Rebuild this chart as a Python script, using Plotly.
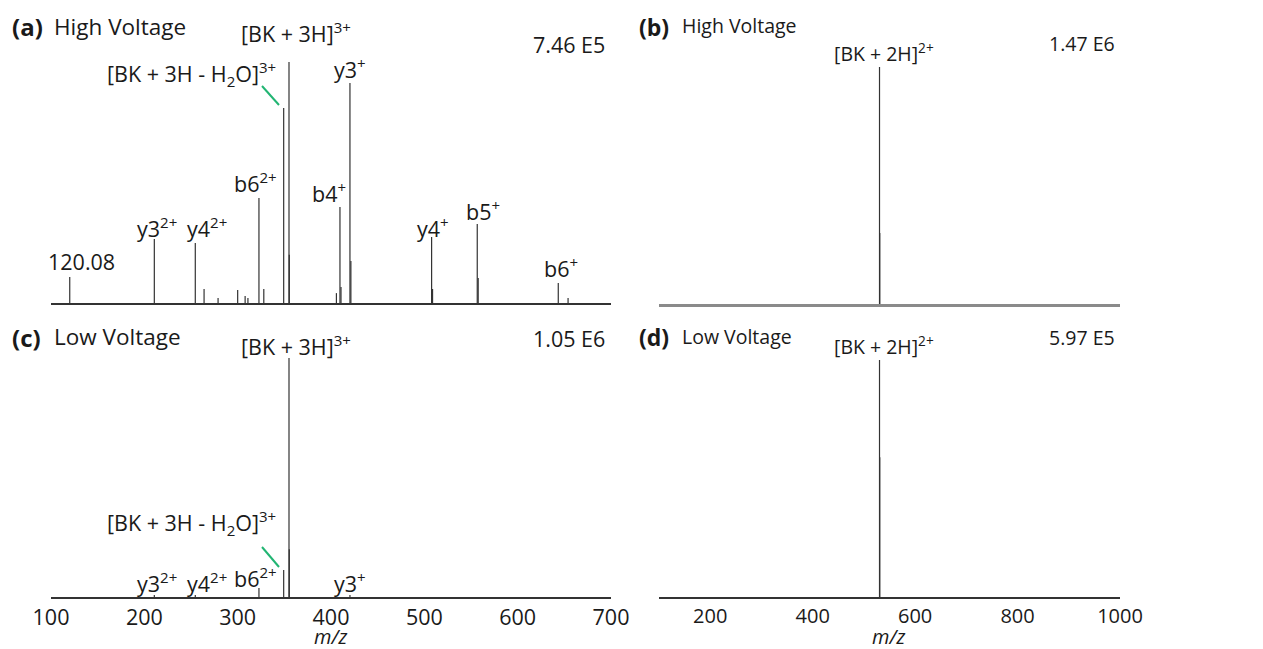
import plotly.graph_objects as go

W, H = 1263, 649

# ---------------- data (m/z, relative intensity %) ----------------
a_mz = [120.08, 210.7, 254.6, 264.0, 279.0, 300.0, 308.0, 311.0, 322.8, 328.0,
        349.3, 355.0, 355.3, 405.8, 409.6, 410.7, 420.3, 421.3, 507.8, 508.8,
        556.7, 557.7, 643.5, 654.0]
a_int = [10.8, 26.6, 24.9, 5.8, 2.1, 5.4, 2.9, 2.1, 43.6, 5.8,
         80.9, 100.0, 20.0, 4.1, 39.8, 6.6, 91.3, 17.4, 27.4, 5.8,
         32.8, 10.4, 8.3, 2.1]

c_mz = [210.7, 254.6, 322.8, 349.3, 355.0, 355.3, 420.3]
c_int = [0.8, 0.8, 3.8, 11.3, 100.0, 20.0, 0.8]

b_mz = [530.5, 531.0]
b_int = [100.0, 30.0]

d_mz = [530.5, 531.0]
d_int = [100.0, 59.0]

left_ticks = [100, 200, 300, 400, 500, 600, 700]
right_ticks = [200, 400, 600, 800, 1000]

max_labels = {"a": "7.46 E5", "b": "1.47 E6", "c": "1.05 E6", "d": "5.97 E5"}


def px(x):
    return x / W


def py(y):
    return 1 - y / H


def sticks(mz, inten):
    xs, ys = [], []
    for m, v in zip(mz, inten):
        xs += [m, m, None]
        ys += [0, v, None]
    return xs, ys


fig = go.Figure()

# panel geometry in pixels: (x0, x1, ytop, ybase, px per %)
panels = {
    "a": dict(ax="", x=(51, 611), yt=5, yb=303, s=2.41, xr=[100, 700], data=(a_mz, a_int)),
    "b": dict(ax="2", x=(659, 1120), yt=5, yb=304, s=2.37, xr=[100, 1000], data=(b_mz, b_int)),
    "c": dict(ax="3", x=(51, 611), yt=320, yb=597, s=2.39, xr=[100, 700], data=(c_mz, c_int)),
    "d": dict(ax="4", x=(659, 1120), yt=320, yb=597, s=2.37, xr=[100, 1000], data=(d_mz, d_int)),
}

FONT = "Open Sans, Noto Sans, sans-serif"
LSIZE = 21.5
RSIZE = 19.5

layout = dict(
    width=W, height=H,
    margin=dict(l=0, r=0, t=0, b=0, pad=0, autoexpand=False),
    paper_bgcolor="white", plot_bgcolor="white", showlegend=False,
)

for key, p in panels.items():
    xs, ys = sticks(*p["data"])
    fig.add_trace(go.Scatter(
        x=xs, y=ys, mode="lines",
        line=dict(color="#333333", width=1.2),
        xaxis="x" + p["ax"], yaxis="y" + p["ax"], hoverinfo="skip",
    ))
    bottom = key in ("c", "d")
    right = key in ("b", "d")
    ticks = right_ticks if right else left_ticks
    layout["xaxis" + p["ax"]] = dict(
        domain=[px(p["x"][0]), px(p["x"][1])],
        range=p["xr"], anchor="y" + p["ax"],
        automargin=False,
        showgrid=False, zeroline=False,
        showline=True,
        linecolor=("#8a8a8a" if key == "b" else "#333333"),
        linewidth=(3 if key == "b" else 2),
        tickmode="array", tickvals=ticks,
        ticktext=[str(t) for t in ticks],
        showticklabels=bottom, ticks="",
        tickfont=dict(family=FONT, size=(20 if right else 21.5), color="#1a1a1a"),
        fixedrange=True,
    )
    ytop = (p["yb"] - p["yt"]) / p["s"]
    layout["yaxis" + p["ax"]] = dict(
        domain=[py(p["yb"]), py(p["yt"])],
        range=[0, ytop], anchor="x" + p["ax"],
        automargin=False,
        visible=False, fixedrange=True,
    )

fig.update_layout(**layout)

ann = []


def T(text, x, y, size=LSIZE, xanchor="center", bold=False, italic=False):
    ann.append(dict(
        text=(f"<b>{text}</b>" if bold else text), x=px(x), y=py(y),
        xref="paper", yref="paper", xanchor=xanchor, yanchor="middle",
        showarrow=False,
        font=dict(family=FONT, size=size, color="#1a1a1a",
                  style=("italic" if italic else "normal")),
    ))


# panel (a)
T("(a)", 10, 27, size=24, xanchor="left", bold=True)
T("High Voltage", 52, 26, size=22.5, xanchor="left")
T("[BK + 3H]<sup>3+</sup>", 296, 33)
T("[BK + 3H - H<sub>2</sub>O]<sup>3+</sup>", 191, 74)
T("y3<sup>+</sup>", 350, 68)
T("b6<sup>2+</sup>", 255, 183)
T("b4<sup>+</sup>", 329, 192)
T("y3<sup>2+</sup>", 157, 227)
T("y4<sup>2+</sup>", 207, 227)
T("120.08", 81, 262)
T("y4<sup>+</sup>", 433, 227)
T("b5<sup>+</sup>", 483, 210)
T("b6<sup>+</sup>", 561, 268)
T(max_labels["a"], 607, 45, xanchor="right")

# panel (c)
T("(c)", 10, 337, size=24, xanchor="left", bold=True)
T("Low Voltage", 52, 336, size=22.5, xanchor="left")
T("[BK + 3H]<sup>3+</sup>", 296, 345)
T("[BK + 3H - H<sub>2</sub>O]<sup>3+</sup>", 191, 523)
T("y3<sup>2+</sup>", 157, 582)
T("y4<sup>2+</sup>", 207, 582)
T("b6<sup>2+</sup>", 255, 577)
T("y3<sup>+</sup>", 350, 582)
T(max_labels["c"], 607, 338, xanchor="right")
T("m/z", 330, 636, italic=True, size=20)

# panel (b)
T("(b)", 637, 27, size=23, xanchor="left", bold=True)
T("High Voltage", 680, 25, size=RSIZE, xanchor="left")
T("[BK + 2H]<sup>2+</sup>", 884, 52, size=RSIZE)
T(max_labels["b"], 1117, 43, size=RSIZE, xanchor="right")

# panel (d)
T("(d)", 637, 337, size=23, xanchor="left", bold=True)
T("Low Voltage", 680, 336, size=RSIZE, xanchor="left")
T("[BK + 2H]<sup>2+</sup>", 884, 345, size=RSIZE)
T(max_labels["d"], 1117, 337, size=RSIZE, xanchor="right")
T("m/z", 888, 636, italic=True, size=20)

fig.update_layout(annotations=ann)

# green leader lines for the water-loss peak
shapes = []
for y0, y1 in [(86, 105), (547, 567)]:
    shapes.append(dict(type="line", xref="paper", yref="paper",
                       x0=px(262), y0=py(y0), x1=px(279), y1=py(y1),
                       line=dict(color="#22b573", width=2)))
fig.update_layout(shapes=shapes)

fig.write_html("out.html")
